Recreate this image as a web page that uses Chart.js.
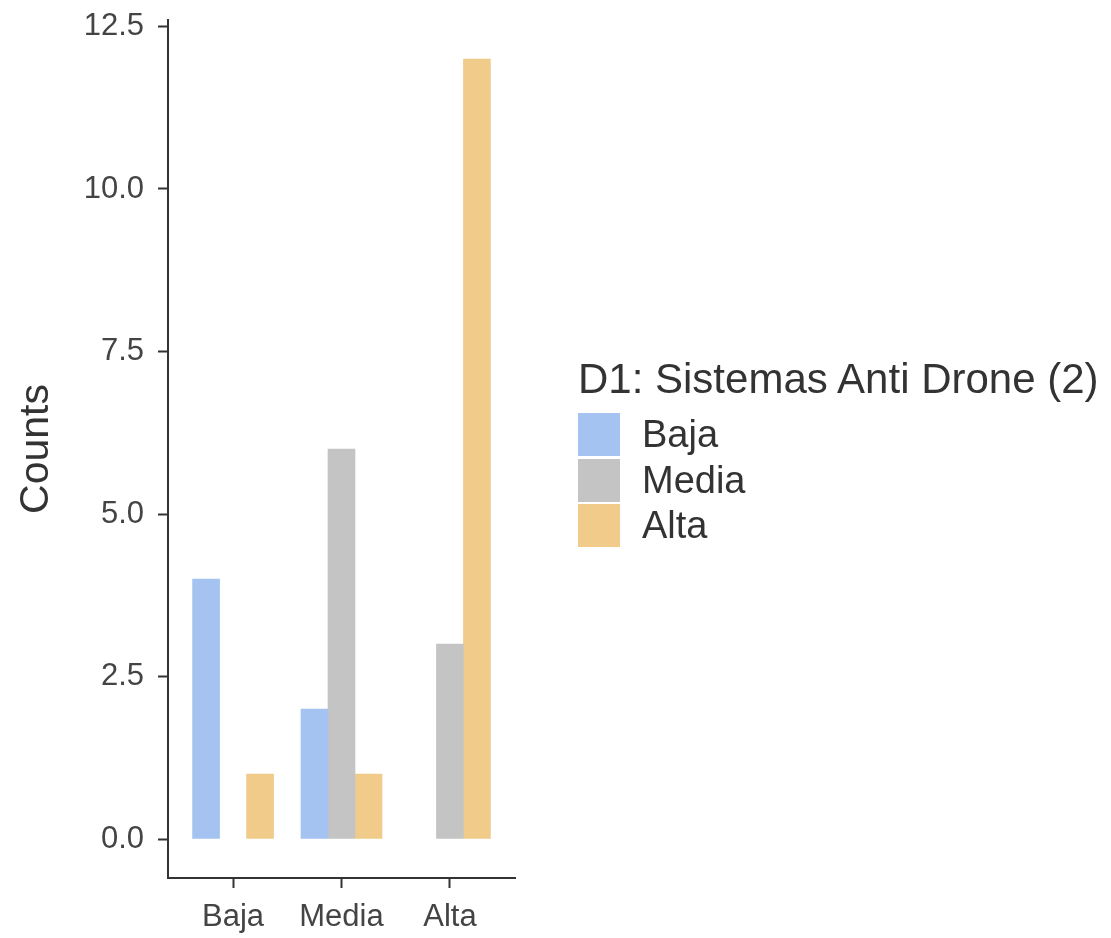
<!DOCTYPE html>
<html>
<head>
<meta charset="utf-8">
<script src="https://cdn.jsdelivr.net/npm/chart.js@4.4.1/dist/chart.umd.min.js"></script>
<style>
    body { margin: 0; background: #fff; font-family: "Liberation Sans", Arial, sans-serif; }
    #contenedor { position: relative; width: 1111px; height: 938px; }
    #leyenda { position: absolute; left: 578px; top: 356px; color: #333; }
    #leyenda .titulo { font-size: 42px; line-height: 46px; white-space: nowrap; margin-bottom: 10px; }
    #leyenda .item { display: flex; align-items: center; height: 45.5px; }
    #leyenda .caja { width: 42px; height: 43px; margin-right: 22px; }
    #leyenda .texto { font-size: 38px; line-height: 43px; }
</style>
</head>
<body>
<div id="contenedor">
    <canvas id="graficoConteos"></canvas>
    <div id="leyenda"></div>
</div>
<script>
// Datos
const categorias = ['Baja', 'Media', 'Alta'];
const serieBaja = [4, 2, 0];
const serieMedia = [0, 6, 3];
const serieAlta = [1, 1, 12];
const ticksY = [0, 2.5, 5, 7.5, 10, 12.5];
const tituloLeyenda = 'D1: Sistemas Anti Drone (2)';

const series = [
    { nombre: 'Baja', valores: serieBaja, color: '#A5C3F0' },
    { nombre: 'Media', valores: serieMedia, color: '#C4C4C4' },
    { nombre: 'Alta', valores: serieAlta, color: '#F0CB8A' }
];

document.addEventListener('DOMContentLoaded', function() {
    // Leyenda en HTML
    const leyenda = document.getElementById('leyenda');
    let html = '<div class="titulo">' + tituloLeyenda + '</div>';
    series.forEach(s => {
        html += '<div class="item"><div class="caja" style="background:' + s.color + '"></div>' +
                '<div class="texto">' + s.nombre + '</div></div>';
    });
    leyenda.innerHTML = html;

    const ctx = document.getElementById('graficoConteos').getContext('2d');
    new Chart(ctx, {
        type: 'bar',
        data: {
            // los ceros no se dibujan (sin linea fantasma)
            datasets: series.map(s => ({
                label: s.nombre,
                data: s.valores.map((v, i) => ({ x: i + 1, y: v === 0 ? null : v })),
                backgroundColor: s.color,
                borderWidth: 0,
                barThickness: 27
            }))
        },
        options: {
            responsive: true,
            maintainAspectRatio: false,
            animation: false,
            layout: { padding: { top: 20, right: 596, left: 0, bottom: 0 } },
            plugins: {
                legend: { display: false },
                tooltip: { enabled: false }
            },
            scales: {
                x: {
                    type: 'linear',
                    min: 0.4,
                    max: 3.6,
                    offset: false,
                    afterBuildTicks: scale => { scale.ticks = categorias.map((c, i) => ({ value: i + 1 })); },
                    afterFit: scale => { scale.height = 60; },
                    ticks: {
                        autoSkip: false,
                        maxRotation: 0,
                        padding: 11,
                        color: '#444',
                        font: { family: 'Liberation Sans', size: 31 },
                        callback: v => categorias[v - 1]
                    },
                    grid: { offset: false, drawOnChartArea: false, drawTicks: true, tickLength: 10, tickColor: '#333', tickWidth: 2 },
                    border: { display: true, color: '#333', width: 2 }
                },
                y: {
                    min: -0.6,
                    max: 12.6,
                    afterBuildTicks: scale => { scale.ticks = ticksY.map(v => ({ value: v })); },
                    afterFit: scale => {
                        scale.width = 168;
                        scale.paddingTop = 0;
                        scale.paddingBottom = 0;
                    },
                    ticks: {
                        padding: 14,
                        color: '#444',
                        font: { family: 'Liberation Sans', size: 31 },
                        callback: v => v.toFixed(1)
                    },
                    title: {
                        display: true,
                        text: 'Counts',
                        color: '#333',
                        font: { family: 'Liberation Sans', size: 41 },
                        padding: { top: 12, bottom: 0 }
                    },
                    grid: { drawOnChartArea: false, drawTicks: true, tickLength: 10, tickColor: '#333', tickWidth: 2 },
                    border: { display: true, color: '#333', width: 2 }
                }
            }
        }
    });
});
</script>
</body>
</html>
